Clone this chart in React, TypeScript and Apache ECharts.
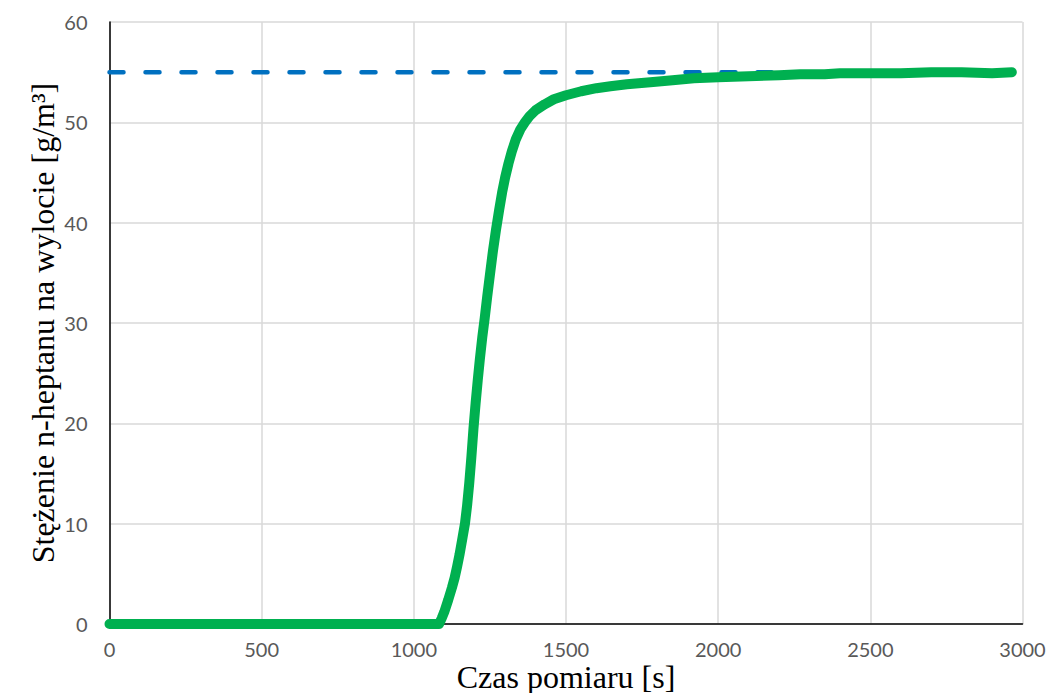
import React, { useEffect, useRef } from "react";
import * as echarts from "echarts";

const xTicks = { min: 0, max: 3000, interval: 500 };
const yTicks = { min: 0, max: 60, interval: 10 };

const targetLevel = 55;
const targetSpan = [0, 2965];

const timeS = [
  0, 200, 400, 600, 800, 1000, 1083, 1092, 1100, 1113, 1125, 1134, 1142, 1150, 1160, 1168,
  1175, 1182, 1189, 1196, 1203, 1210, 1217, 1225, 1233, 1241, 1250, 1260, 1270, 1280,
  1290, 1300, 1311, 1322, 1335, 1350, 1365, 1380, 1400, 1430, 1460,
  1500, 1550, 1600, 1646, 1700, 1777, 1850, 1920, 2000, 2100, 2200, 2270, 2350, 2400,
  2500, 2600, 2700, 2800, 2900, 2965,
];
const concentration = [
  0, 0, 0, 0, 0, 0, 0, 0.6, 1.2, 2.4, 3.6, 4.6, 5.7, 6.9, 8.6, 10,
  11.8, 14, 16.6, 19.5, 22, 24.3, 26.4, 28.6, 30.5, 32.6, 34.8, 37.2, 39.3, 41.2,
  43, 44.5, 45.9, 47.1, 48.3, 49.3, 50.0, 50.6, 51.2, 51.8, 52.3,
  52.7, 53.1, 53.4, 53.6, 53.8, 54.0, 54.2, 54.4, 54.5, 54.6, 54.7, 54.8, 54.8, 54.9,
  54.9, 54.9, 55.0, 55.0, 54.9, 55.0,
];

const xName = "Czas pomiaru [s]";
const yName = "Stężenie n-heptanu na wylocie [g/m³]";

export default function App() {
  const ref = useRef<HTMLDivElement>(null);
  useEffect(() => {
    if (!ref.current) return;
    const chart = echarts.init(ref.current, undefined, { renderer: "svg", width: 1055, height: 693 });
    const labelStyle = {
      color: "#595959",
      fontFamily: "Lato, 'Open Sans', sans-serif",
      fontSize: 20,
      lineHeight: 20,
      formatter: (v: number) => String(v),
    };
    const nameFont = "'Liberation Serif', 'Times New Roman', serif";
    chart.setOption({
      animation: false,
      grid: {
        left: 109.5,
        right: 32.5,
        top: 22,
        bottom: 69,
        containLabel: false,
        outerBoundsMode: "none",
      },
      xAxis: {
        type: "value",
        min: xTicks.min,
        max: xTicks.max,
        interval: xTicks.interval,
        name: xName,
        nameLocation: "middle",
        nameGap: 38,
        nameMoveOverlap: false,
        nameTextStyle: { color: "#000", fontFamily: nameFont, fontSize: 32, lineHeight: 30 },
        axisLine: { show: true, onZero: false, lineStyle: { color: "#000", width: 1.5 } },
        axisTick: { show: false },
        axisLabel: { ...labelStyle, margin: 15 },
        splitLine: { show: true, lineStyle: { color: "#d9d9d9", width: 1.5 } },
      },
      yAxis: {
        type: "value",
        min: yTicks.min,
        max: yTicks.max,
        interval: yTicks.interval,
        name: yName,
        nameLocation: "middle",
        nameGap: 51,
        nameMoveOverlap: false,
        nameRotate: 90,
        nameTextStyle: { color: "#000", fontFamily: nameFont, fontSize: 32 },
        axisLine: { show: true, onZero: false, lineStyle: { color: "#000", width: 1.5 } },
        axisTick: { show: false },
        axisLabel: { ...labelStyle, margin: 22 },
        splitLine: { show: true, lineStyle: { color: "#d9d9d9", width: 1.5 } },
      },
      series: [
        {
          type: "line",
          data: targetSpan.map((x) => [x, targetLevel]),
          showSymbol: false,
          z: 2,
          lineStyle: { color: "#0070C0", width: 4.5, type: [14, 22], cap: "round" },
        },
        {
          type: "line",
          data: timeS.map((t, i) => [t, concentration[i]]),
          showSymbol: false,
          z: 3,
          lineStyle: { color: "#00B050", width: 10, cap: "round", join: "round" },
        },
      ],
    });
    return () => chart.dispose();
  }, []);
  return <div ref={ref} style={{ width: 1055, height: 693, position: "absolute", left: 0, top: 0 }} />;
}
